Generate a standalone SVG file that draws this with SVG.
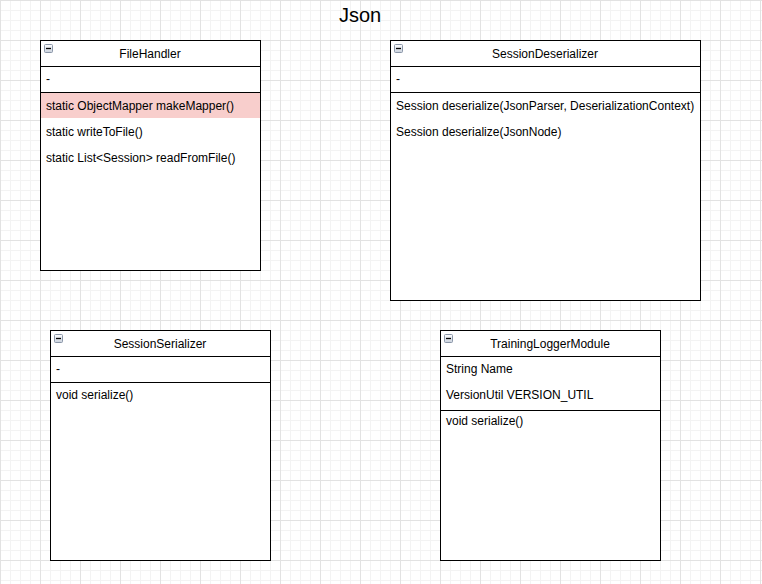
<svg xmlns="http://www.w3.org/2000/svg" width="762" height="584" viewBox="0 0 762 584">
  <defs>
    <pattern id="minor" width="10" height="10" patternUnits="userSpaceOnUse">
      <path d="M0.5 0V10M0 0.5H10" stroke="#f3f3f3" stroke-width="1" fill="none"/>
    </pattern>
    <pattern id="major" width="40" height="40" patternUnits="userSpaceOnUse">
      <rect width="40" height="40" fill="url(#minor)"/>
      <path d="M0.5 0V40M0 0.5H40" stroke="#e2e2e2" stroke-width="1" fill="none"/>
    </pattern>
    <linearGradient id="iconGrad" x1="0" y1="0" x2="0" y2="1">
      <stop offset="0" stop-color="#ffffff"/>
      <stop offset="1" stop-color="#c8d0dc"/>
    </linearGradient>
    <g id="collapse">
      <rect x="0.5" y="0.5" width="8" height="8" rx="1" fill="url(#iconGrad)" stroke="#8a96a8" stroke-width="1"/>
      <path d="M2 4.5H7" stroke="#000" stroke-width="1.3"/>
    </g>
  </defs>
  <style>
    .box { fill: #ffffff; stroke: #000000; stroke-width: 1; }
    .line { stroke: #000000; stroke-width: 1; fill: none; }
    .title { font-family: "Liberation Sans", Arial, Helvetica, sans-serif; font-size: 12px; fill: #000000; text-anchor: middle; }
    .item { font-family: "Liberation Sans", Arial, Helvetica, sans-serif; font-size: 12px; fill: #000000; }
    .heading { font-family: "Liberation Sans", Arial, Helvetica, sans-serif; font-size: 20px; fill: #000000; text-anchor: middle; }
  </style>
  <rect width="762" height="584" fill="#ffffff"/>
  <rect width="762" height="584" fill="url(#major)"/>

  <text class="heading" x="360" y="22">Json</text>

  <g id="FileHandler">
    <rect class="box" x="40.5" y="40.5" width="220" height="230"/>
    <use href="#collapse" x="44" y="44"/>
    <text class="title" x="150" y="58">FileHandler</text>
    <path class="line" d="M40 66.5H261"/>
    <text class="item" x="46" y="83">-</text>
    <path class="line" d="M40 92.5H261"/>
    <rect x="41" y="93" width="219" height="25" fill="#f8cecc"/>
    <text class="item" x="46" y="110">static ObjectMapper makeMapper()</text>
    <text class="item" x="46" y="136">static writeToFile()</text>
    <text class="item" x="46" y="162">static List&lt;Session&gt; readFromFile()</text>
  </g>

  <g id="SessionDeserializer">
    <rect class="box" x="390.5" y="40.5" width="310" height="260"/>
    <use href="#collapse" x="394" y="44"/>
    <text class="title" x="545" y="58">SessionDeserializer</text>
    <path class="line" d="M390 66.5H701"/>
    <text class="item" x="396" y="83">-</text>
    <path class="line" d="M390 92.5H701"/>
    <text class="item" x="396" y="110">Session deserialize(JsonParser, DeserializationContext)</text>
    <text class="item" x="396" y="136">Session deserialize(JsonNode)</text>
  </g>

  <g id="SessionSerializer">
    <rect class="box" x="50.5" y="330.5" width="220" height="230"/>
    <use href="#collapse" x="54" y="334"/>
    <text class="title" x="160" y="348">SessionSerializer</text>
    <path class="line" d="M50 356.5H271"/>
    <text class="item" x="56" y="373">-</text>
    <path class="line" d="M50 382.5H271"/>
    <text class="item" x="56" y="399">void serialize()</text>
  </g>

  <g id="TrainingLoggerModule">
    <rect class="box" x="440.5" y="330.5" width="220" height="230"/>
    <use href="#collapse" x="444" y="334"/>
    <text class="title" x="550" y="348">TrainingLoggerModule</text>
    <path class="line" d="M440 356.5H661"/>
    <text class="item" x="446" y="373">String Name</text>
    <text class="item" x="446" y="399">VersionUtil VERSION_UTIL</text>
    <path class="line" d="M440 410.5H661"/>
    <text class="item" x="446" y="425">void serialize()</text>
  </g>

  <g id="connectors"></g>
</svg>
